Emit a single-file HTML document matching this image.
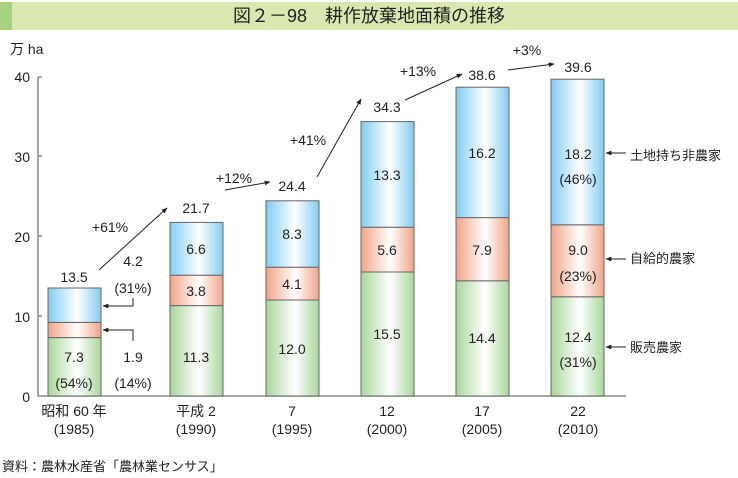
<!DOCTYPE html><html><head><meta charset="utf-8"><style>body{margin:0;background:#fff}svg{display:block;font-family:"Liberation Sans","Noto Sans CJK JP",sans-serif}</style></head><body>
<svg width="738" height="478" viewBox="0 0 738 478">
<defs>
<linearGradient id="b" x1="0" x2="1"><stop offset="0" stop-color="#82cdf1"/><stop offset="0.55" stop-color="#fff"/><stop offset="1" stop-color="#82cdf1"/></linearGradient>
<linearGradient id="o" x1="0" x2="1"><stop offset="0" stop-color="#f2a487"/><stop offset="0.55" stop-color="#fff"/><stop offset="1" stop-color="#f2a487"/></linearGradient>
<linearGradient id="g" x1="0" x2="1"><stop offset="0" stop-color="#a9d79b"/><stop offset="0.55" stop-color="#fff"/><stop offset="1" stop-color="#a9d79b"/></linearGradient>
<marker id="ar" viewBox="0 0 10 10" refX="9" refY="5" markerWidth="6" markerHeight="6" orient="auto"><path d="M0,1L10,5L0,9z" fill="#222"/></marker>
</defs>
<rect x="0" y="2" width="738" height="28" fill="#d9e8b0"/>
<rect x="0" y="2" width="12" height="28" fill="#a6d27f"/>
<text x="369" y="22" font-size="18" text-anchor="middle" fill="#222">図２－98　耕作放棄地面積の推移</text>
<g font-size="14" fill="#222">
<text x="10" y="54">万 ha</text>
<text x="30" y="82" text-anchor="end">40</text>
<text x="30" y="162" text-anchor="end">30</text>
<text x="30" y="242" text-anchor="end">20</text>
<text x="30" y="322" text-anchor="end">10</text>
<text x="30" y="402" text-anchor="end">0</text>
</g>
<path d="M38,77H42M38,77V396H626M38,156H42M38,236H42M38,316H42" stroke="#888" stroke-width="1.5" fill="none"/>
<g stroke="#666" stroke-width="1">
<rect x="48" y="337.6" width="53" height="58.4" fill="url(#g)"/><rect x="48" y="322.4" width="53" height="15.2" fill="url(#o)"/><rect x="48" y="288" width="53" height="34.4" fill="url(#b)"/>
<rect x="170" y="305.6" width="53" height="90.4" fill="url(#g)"/><rect x="170" y="275.2" width="53" height="30.4" fill="url(#o)"/><rect x="170" y="222.4" width="53" height="52.8" fill="url(#b)"/>
<rect x="266" y="300" width="53" height="96" fill="url(#g)"/><rect x="266" y="267.2" width="53" height="32.8" fill="url(#o)"/><rect x="266" y="200.8" width="53" height="66.4" fill="url(#b)"/>
<rect x="361" y="272" width="53" height="124" fill="url(#g)"/><rect x="361" y="227.2" width="53" height="44.8" fill="url(#o)"/><rect x="361" y="121.6" width="53" height="105.6" fill="url(#b)"/>
<rect x="456" y="280.8" width="53" height="115.2" fill="url(#g)"/><rect x="456" y="217.6" width="53" height="63.2" fill="url(#o)"/><rect x="456" y="87.2" width="53" height="130.4" fill="url(#b)"/>
<rect x="551" y="296.8" width="53" height="99.2" fill="url(#g)"/><rect x="551" y="224.8" width="53" height="72" fill="url(#o)"/><rect x="551" y="79.2" width="53" height="145.6" fill="url(#b)"/>
</g>
<g font-size="14" fill="#222" text-anchor="middle">
<text x="74" y="282">13.5</text><text x="74" y="362">7.3</text><text x="74" y="388">(54%)</text>
<text x="133" y="266">4.2</text><text x="133" y="293">(31%)</text>
<text x="133" y="362">1.9</text><text x="133" y="388">(14%)</text>
<text x="196" y="213">21.7</text><text x="196" y="254">6.6</text><text x="196" y="296">3.8</text><text x="196" y="362">11.3</text>
<text x="292" y="191">24.4</text><text x="292" y="239">8.3</text><text x="292" y="289">4.1</text><text x="292" y="354">12.0</text>
<text x="387" y="112">34.3</text><text x="387" y="180">13.3</text><text x="387" y="255">5.6</text><text x="387" y="339">15.5</text>
<text x="482" y="80">38.6</text><text x="482" y="158">16.2</text><text x="482" y="255">7.9</text><text x="482" y="343">14.4</text>
<text x="578" y="72">39.6</text><text x="578" y="159">18.2</text><text x="578" y="184">(46%)</text>
<text x="578" y="255">9.0</text><text x="578" y="281">(23%)</text>
<text x="578" y="342">12.4</text><text x="578" y="367">(31%)</text>
<text x="74" y="416">昭和 60 年</text><text x="74" y="434">(1985)</text>
<text x="196" y="416">平成 2</text><text x="196" y="434">(1990)</text>
<text x="292" y="416">7</text><text x="292" y="434">(1995)</text>
<text x="387" y="416">12</text><text x="387" y="434">(2000)</text>
<text x="482" y="416">17</text><text x="482" y="434">(2005)</text>
<text x="578" y="416">22</text><text x="578" y="434">(2010)</text>
<text x="110" y="232">+61%</text><text x="234" y="183">+12%</text><text x="308" y="145">+41%</text>
<text x="418" y="76">+13%</text><text x="527" y="55">+3%</text>
</g>
<g font-size="13" fill="#222">
<text x="630" y="160">土地持ち非農家</text>
<text x="630" y="263">自給的農家</text>
<text x="630" y="352">販売農家</text>
<text x="2" y="471">資料：農林水産省「農林業センサス」</text>
</g>
<g stroke="#222" stroke-width="1" fill="none" marker-end="url(#ar)">
<path d="M99,270L167,208"/><path d="M225,190L270,182"/><path d="M317,177L361,99"/>
<path d="M405,100L462,74"/><path d="M508,70L554,64"/>
<path d="M133,298V306H103"/><path d="M133,341V330H103"/>
<path d="M626,153H606"/><path d="M626,259H606"/><path d="M626,347H606"/>
</g>
</svg></body></html>
